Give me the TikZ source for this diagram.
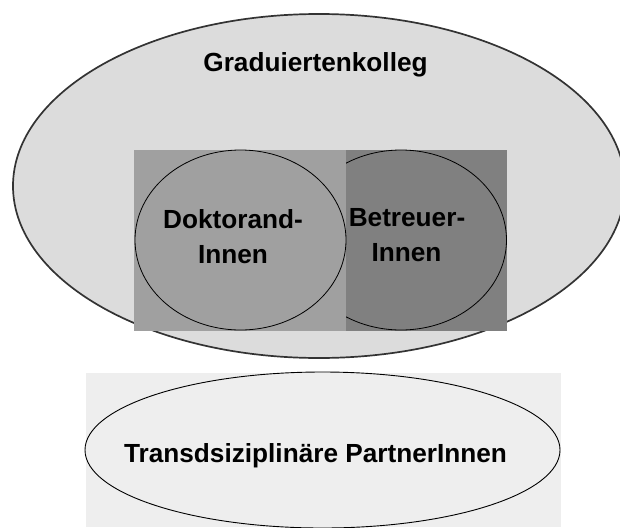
\documentclass[tikz,border=0pt]{standalone}
\usepackage{fontspec}
\setmainfont{Liberation Sans}
\usetikzlibrary{shapes.geometric}
\definecolor{bigfill}{HTML}{DCDCDC}
\definecolor{leftfill}{HTML}{A0A0A0}
\definecolor{rightfill}{HTML}{808080}
\definecolor{botfill}{HTML}{EEEEEE}
\definecolor{bigline}{HTML}{333333}
\begin{document}
\begin{tikzpicture}[x=1pt,y=-1pt,
  lbl/.style={font=\fontsize{26.2}{34}\selectfont\bfseries, align=center, inner sep=0pt, text=black},
  oval/.style={ellipse, inner sep=0pt}]
\useasboundingbox (0,0) rectangle (620,527);
\clip (0,0) rectangle (620,527);
% big ellipse
\node[oval, fill=bigfill, draw=bigline, line width=1.7pt, minimum width=612pt, minimum height=344pt] (kolleg) at (319,186) {};
\node[lbl, anchor=base] (kollegtxt) at (315.5,71) {Graduiertenkolleg};
% right block
\fill[rightfill] (346,150) rectangle (507,331);
\node[oval, fill=rightfill, draw=black, line width=0.8pt, minimum width=211pt, minimum height=180pt] (betreuer) at (401,240) {};
% left block
\fill[leftfill] (134,150) rectangle (346,331);
\node[oval, fill=leftfill, draw=black, line width=0.8pt, minimum width=211pt, minimum height=180pt] (doktor) at (240.5,240) {};
\node[lbl, anchor=base] (doktortxt1) at (233,228) {Doktorand-};
\node[lbl, anchor=base] (doktortxt2) at (233,263) {Innen};
\node[lbl, anchor=base] (betreuertxt1) at (407,226) {Betreuer-};
\node[lbl, anchor=base] (betreuertxt2) at (406.5,261) {Innen};
% bottom block
\fill[botfill] (86,373) rectangle (561,527);
\node[oval, fill=botfill, draw=black, line width=0.9pt, minimum width=475pt, minimum height=156pt] (partner) at (322.5,450) {};
\node[lbl, anchor=base] (partnertxt) at (315.5,462) {Transdsiziplinäre PartnerInnen};
\end{tikzpicture}
\end{document}
